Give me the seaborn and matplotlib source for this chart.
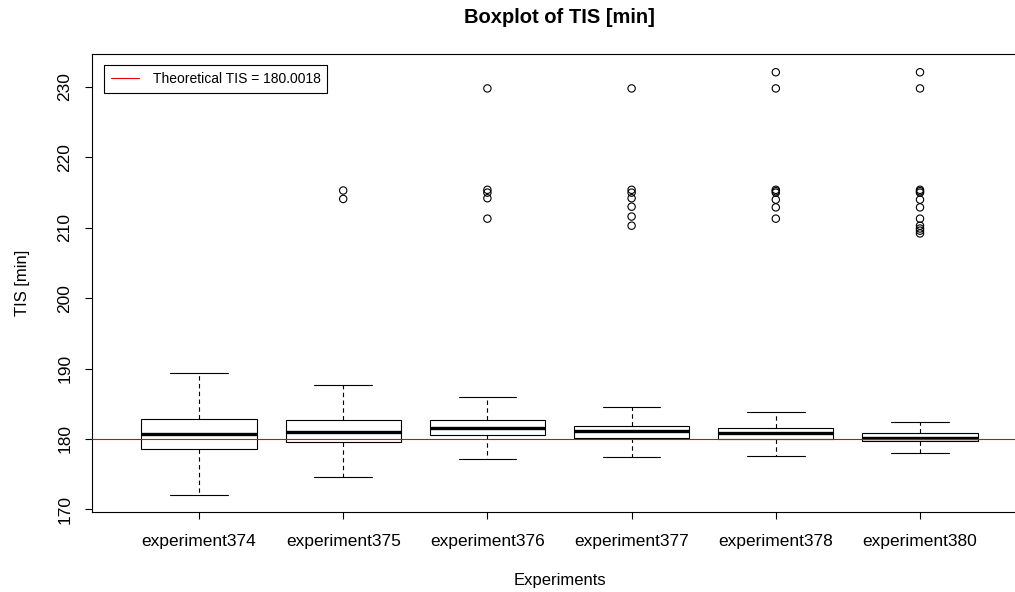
import numpy as np
import pandas as pd
import matplotlib
matplotlib.use("Agg")
import matplotlib.pyplot as plt
import seaborn as sns

# box statistics
experiments = ['experiment374', 'experiment375', 'experiment376',
               'experiment377', 'experiment378', 'experiment380']
whisker_low = [172.0, 174.6, 177.2, 177.4, 177.6, 178.0]
q1 = [178.6, 179.6, 180.5, 180.2, 180.0, 179.7]
median = [180.7, 181.0, 181.6, 181.1, 180.8, 180.2]
q3 = [182.8, 182.7, 182.7, 181.9, 181.5, 180.8]
whisker_high = [189.4, 187.6, 186.0, 184.6, 183.8, 182.4]

# outliers per experiment
out374 = []
out375 = [215.3, 214.1]
out376 = [229.8, 215.4, 215.0, 214.2, 211.3]
out377 = [229.8, 215.4, 215.0, 214.2, 213.0, 211.6, 210.3]
out378 = [232.1, 229.8, 215.4, 215.2, 215.0, 214.0, 212.9, 211.3]
out380 = [232.1, 229.8, 215.4, 215.2, 215.0, 214.0, 212.9, 211.3,
          210.3, 209.9, 209.6, 209.2]
outliers = [out374, out375, out376, out377, out378, out380]

theoretical_tis = 180.0018

# five values per experiment -> quartiles land exactly on q1/median/q3
box_rows = []
for i, exp in enumerate(experiments):
    for v in [whisker_low[i], q1[i], median[i], q3[i], whisker_high[i]]:
        box_rows.append({'experiment': exp, 'value': v})
box_df = pd.DataFrame(box_rows)

out_rows = []
for exp, vals in zip(experiments, outliers):
    for v in vals:
        out_rows.append({'experiment': exp, 'value': v})
out_df = pd.DataFrame(out_rows)

sns.set_style('white')
plt.rcParams['font.family'] = ['Liberation Sans', 'DejaVu Sans']
plt.rcParams['text.color'] = 'black'
plt.rcParams['axes.labelcolor'] = 'black'
plt.rcParams['xtick.color'] = 'black'
plt.rcParams['ytick.color'] = 'black'

fig = plt.figure(figsize=(10.15, 5.92), dpi=100)
ax = fig.add_axes([92 / 1015, 80 / 592, 935 / 1015, 458 / 592])

sns.boxplot(data=box_df, x='experiment', y='value', order=experiments,
            whis=(0, 100), showfliers=False, width=0.8, color='white',
            saturation=1, linecolor='black', linewidth=0.8,
            medianprops={'linewidth': 2.4, 'color': 'black'},
            whiskerprops={'linestyle': (0, (4, 3)), 'linewidth': 0.8},
            capprops={'linewidth': 0.8}, ax=ax)

sns.stripplot(data=out_df, x='experiment', y='value', order=experiments,
              jitter=False, size=5.3, facecolor='none', edgecolor='black',
              linewidth=0.8, ax=ax)

line = ax.axhline(theoretical_tis, color='#e8000b', linewidth=0.8, zorder=5)

ax.set_xlim(-0.742, 5.742)
ax.set_ylim(169.63, 234.69)
ax.set_yticks([170, 180, 190, 200, 210, 220, 230])

ax.set_title('Boxplot of TIS [min]', fontsize=14.5, fontweight='bold', pad=22)
ax.set_xlabel('Experiments', fontsize=12, labelpad=17)
ax.set_ylabel('TIS [min]', fontsize=12, labelpad=20)

ax.tick_params(axis='both', direction='out', length=5, width=0.8,
               labelsize=12.5, bottom=True, left=True, color='black')
ax.tick_params(axis='y', pad=9)
ax.tick_params(axis='x', pad=11)
plt.setp(ax.get_yticklabels(), rotation=90, va='center')

for sp in ax.spines.values():
    sp.set_color('black')
    sp.set_linewidth(0.8)

leg = ax.legend([line], ['Theoretical TIS = ' + str(theoretical_tis)],
                loc='upper left', bbox_to_anchor=(12 / 935, 1 - 11 / 458),
                borderaxespad=0, fancybox=False, framealpha=1,
                edgecolor='black', fontsize=10, handlelength=2.0,
                handletextpad=1.0, borderpad=0.5)
leg.get_frame().set_linewidth(0.8)

fig.savefig('out.png', dpi=100)
